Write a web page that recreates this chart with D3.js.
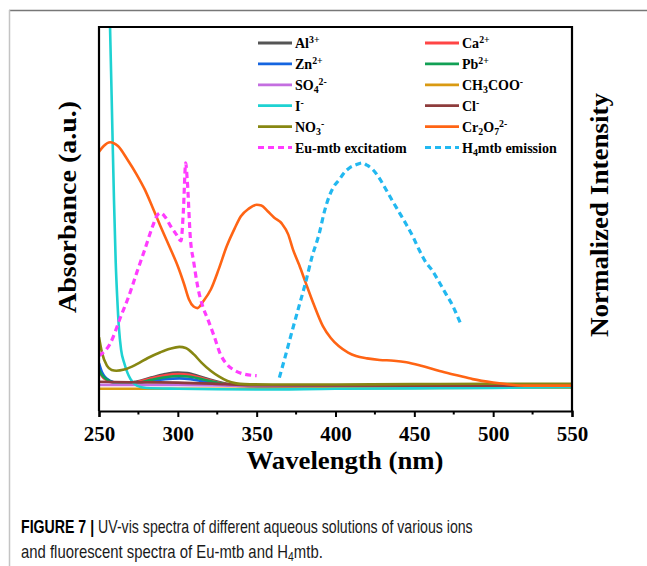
<!DOCTYPE html>
<html>
<head>
<meta charset="utf-8">
<script src="https://cdn.jsdelivr.net/npm/d3@7"></script>
<style>
  body { margin:0; background:#fff; }
  svg { display:block; }
</style>
</head>
<body>
<div class="canvas"></div>
<script>
// ---- data (wavelength nm, absorbance / normalized intensity) ----
const xTicks = [250, 300, 350, 400, 450, 500, 550]
const xMinorTicks = [275, 325, 375, 425, 475, 525]

const seriesNames = ["Al^{3+}", "Ca^{2+}", "Zn^{2+}", "Pb^{2+}", "SO_4^{2-}", "CH_3COO^-",
                     "I^-", "Cl^-", "NO_3^-", "Cr_2O_7^{2-}", "Eu-mtb excitatiom", "H_4mtb emission"]

const al3 = [[250,0.112],[252,0.095],[255,0.082],[260,0.074],[266,0.072],[274,0.077],[283,0.087],[292,0.096],[300,0.100],[306,0.099],[314,0.090],[322,0.080],[332,0.070],[342,0.066],[380,0.064],[450,0.064],[550,0.065]]
const ca2 = [[250,0.105],[252,0.090],[255,0.080],[260,0.073],[266,0.071],[274,0.075],[283,0.085],[292,0.093],[301,0.096],[307,0.094],[314,0.087],[322,0.078],[332,0.069],[342,0.066],[380,0.064],[450,0.064],[550,0.065]]
const zn2 = [[250,0.125],[252,0.100],[255,0.084],[260,0.074],[266,0.070],[274,0.072],[283,0.078],[292,0.083],[301,0.085],[308,0.083],[316,0.077],[326,0.070],[340,0.065],[380,0.063],[450,0.063],[550,0.064]]
const pb2 = [[250,0.108],[252,0.093],[255,0.082],[260,0.073],[266,0.070],[274,0.073],[283,0.081],[292,0.088],[301,0.091],[308,0.089],[316,0.082],[326,0.073],[338,0.067],[380,0.065],[450,0.066],[550,0.068]]
const so4 = [[250,0.068],[300,0.068],[350,0.065],[450,0.064],[550,0.065]]
const ch3coo = [[250,0.058],[300,0.058],[350,0.058],[450,0.060],[550,0.061]]
const iodide = [[255,1.25],[257,1.0],[258.5,0.73],[259.5,0.55],[260.6,0.387],[261.5,0.30],[262.7,0.213],[264,0.160],[266,0.125],[268,0.100],[270,0.083],[274,0.066],[280,0.060],[300,0.058],[350,0.056],[400,0.058],[450,0.059],[500,0.060],[550,0.062]]
const chloride = [[250,0.076],[270,0.075],[300,0.074],[330,0.070],[350,0.067],[450,0.066],[550,0.066]]
const no3 = [[250,0.192],[252,0.150],[255,0.118],[258,0.107],[261,0.105],[266,0.108],[274,0.122],[281,0.138],[289,0.153],[295,0.162],[301,0.167],[305,0.164],[310,0.148],[315,0.126],[321,0.104],[326,0.090],[331.5,0.078],[337,0.072],[342,0.070],[360,0.069],[400,0.069],[450,0.070],[500,0.071],[550,0.071]]
const cr2o7 = [[250,0.675],[253,0.690],[257,0.700],[262,0.690],[268,0.655],[274,0.615],[279,0.577],[284,0.530],[289,0.481],[295,0.425],[300,0.377],[304,0.330],[307,0.291],[310,0.272],[312.5,0.268],[316,0.285],[321,0.317],[326,0.370],[331,0.429],[336,0.475],[340,0.507],[345,0.527],[350,0.537],[353,0.535],[357,0.520],[361,0.504],[366,0.488],[370,0.460],[373,0.421],[377,0.380],[381,0.335],[386,0.280],[392,0.221],[397,0.190],[402,0.169],[408,0.152],[413,0.143],[420,0.137],[428,0.133],[437,0.131],[445,0.127],[455,0.117],[466,0.104],[477,0.093],[487,0.083],[500,0.074],[510,0.069],[520,0.066],[535,0.066],[550,0.066]]
const euExc = [[250,0.144],[257,0.175],[264,0.248],[269,0.300],[274,0.361],[279,0.420],[284,0.481],[287,0.510],[289,0.516],[292,0.505],[295.5,0.481],[299,0.460],[302,0.443],[303.5,0.520],[305,0.646],[306,0.600],[308,0.447],[310,0.390],[312.5,0.326],[316,0.270],[319,0.239],[323,0.195],[327,0.148],[331,0.122],[336,0.106],[342,0.096],[350,0.092]]
const h4Em = [[364.4,0.087],[368,0.140],[372.8,0.213],[377,0.275],[381,0.334],[385,0.400],[389.8,0.464],[393,0.520],[396,0.559],[399,0.585],[402.5,0.603],[405,0.618],[408.8,0.633],[413,0.641],[417,0.646],[420,0.640],[423.6,0.629],[428,0.605],[432,0.577],[436,0.548],[440.6,0.516],[445,0.485],[449,0.455],[453,0.420],[457.5,0.386],[461,0.368],[466,0.334],[470,0.305],[474.5,0.273],[477,0.250],[480,0.222]]

const seriesData = [al3, ca2, zn2, pb2, so4, ch3coo, iodide, chloride, no3, cr2o7, euExc, h4Em]

// ---- styles ----
const colors = ["#555555", "#ff4545", "#1565e0", "#12a055", "#c46ee0", "#d99a12",
                "#1ed2d2", "#8e3c3c", "#878712", "#ff6414", "#ff3cff", "#22b8f0"]
const dashed = [false, false, false, false, false, false, false, false, false, false, true, true]

const W = 647, H = 566
const plot = { left: 99, right: 572, top: 27, bottom: 411 }

const svg = d3.select(".canvas").append("svg").attr("width", W).attr("height", H)

// page frame
svg.append("line").attr("x1", 9).attr("x2", W).attr("y1", 10.5).attr("y2", 10.5)
   .attr("stroke", "#777").attr("stroke-width", 1.5)
svg.append("line").attr("x1", 9.5).attr("x2", 9.5).attr("y1", 10).attr("y2", H)
   .attr("stroke", "#c4c4c4").attr("stroke-width", 1.5)

const x = d3.scaleLinear().domain([250, 550]).range([plot.left, plot.right])
const y = d3.scaleLinear().domain([0, 1]).range([plot.bottom, plot.top])

svg.append("clipPath").attr("id", "clip")
   .append("rect").attr("x", plot.left).attr("y", plot.top)
   .attr("width", plot.right - plot.left).attr("height", plot.bottom - plot.top)

const line = d3.line().x(d => x(d[0])).y(d => y(d[1])).curve(d3.curveMonotoneX)

svg.append("g").attr("clip-path", "url(#clip)")
   .selectAll("path").data(seriesData).enter().append("path")
   .attr("d", line)
   .attr("fill", "none")
   .attr("stroke", (d, i) => colors[i])
   .attr("stroke-width", (d, i) => dashed[i] ? 3.2 : 2.6)
   .attr("stroke-dasharray", (d, i) => dashed[i] ? "6,4" : null)
   .attr("stroke-linejoin", "round")

// frame + axes
const frame = svg.append("g").attr("fill", "none").attr("stroke", "#000").attr("stroke-width", 2.2)
frame.append("line").attr("x1", plot.left).attr("x2", plot.left).attr("y1", plot.top - 1).attr("y2", plot.bottom)
frame.append("line").attr("x1", plot.right).attr("x2", plot.right).attr("y1", plot.top - 1).attr("y2", plot.bottom)
frame.append("line").attr("x1", plot.left - 1).attr("x2", plot.right + 1).attr("y1", plot.top).attr("y2", plot.top)

const serif = "'Liberation Serif', 'Times New Roman', serif"

const xAxis = svg.append("g").attr("transform", `translate(0,${plot.bottom})`)
  .call(d3.axisBottom(x).tickValues(xTicks).tickSize(6).tickPadding(9).tickFormat(d3.format("d")))
xAxis.select(".domain").attr("stroke-width", 2.2)
xAxis.selectAll(".tick line").attr("stroke-width", 2)
xAxis.selectAll("text")
  .attr("font-family", serif)
  .attr("font-weight", "bold").attr("font-size", 21).attr("fill", "#000")
svg.append("g").selectAll("line").data(xMinorTicks).enter().append("line")
  .attr("x1", d => x(d)).attr("x2", d => x(d))
  .attr("y1", plot.bottom).attr("y2", plot.bottom + 3.5)
  .attr("stroke", "#000").attr("stroke-width", 2)

svg.append("text").attr("x", 345).attr("y", 469).attr("text-anchor", "middle")
  .attr("font-family", serif).attr("font-weight", "bold").attr("font-size", 25)
  .attr("textLength", 197).attr("lengthAdjust", "spacingAndGlyphs")
  .text("Wavelength (nm)")

svg.append("text").attr("transform", "translate(76,207) rotate(-90)").attr("text-anchor", "middle")
  .attr("font-family", serif).attr("font-weight", "bold").attr("font-size", 25)
  .attr("textLength", 212).attr("lengthAdjust", "spacingAndGlyphs")
  .text("Absorbance (a.u.)")

svg.append("text").attr("transform", "translate(608,215) rotate(-90)").attr("text-anchor", "middle")
  .attr("font-family", serif).attr("font-weight", "bold").attr("font-size", 25)
  .attr("textLength", 244).attr("lengthAdjust", "spacingAndGlyphs")
  .text("Normalized Intensity")

// label with _sub and ^sup markup -> tspans
const parseLabel = (s) => {
  const parts = []
  let i = 0, buf = ""
  while (i < s.length) {
    const c = s[i]
    if (c === "_" || c === "^") {
      if (buf) { parts.push({ t: buf, m: null }); buf = "" }
      let t
      if (s[i + 1] === "{") {
        const end = s.indexOf("}", i)
        t = s.slice(i + 2, end); i = end + 1
      } else { t = s[i + 1]; i += 2 }
      parts.push({ t, m: c === "_" ? "sub" : "sup" })
    } else { buf += c; i++ }
  }
  if (buf) parts.push({ t: buf, m: null })
  return parts
}

const addRich = (sel, s, fs) => {
  parseLabel(s).forEach(p => {
    const ts = sel.append("tspan").text(p.t)
    if (p.m === "sub") ts.attr("font-size", fs * 0.7).attr("baseline-shift", "-25%")
    if (p.m === "sup") ts.attr("font-size", fs * 0.7).attr("baseline-shift", "55%")
  })
}

// legend: two columns, six rows
const legend = svg.append("g")
seriesNames.forEach((name, i) => {
  const col = i % 2, row = Math.floor(i / 2)
  const lx = col === 0 ? 258 : 425
  const ly = 43 + row * 20.9
  legend.append("line").attr("x1", lx).attr("x2", lx + 34).attr("y1", ly).attr("y2", ly)
    .attr("stroke", colors[i]).attr("stroke-width", dashed[i] ? 3.2 : 2.8)
    .attr("stroke-dasharray", dashed[i] ? "6,4" : null)
  const t = legend.append("text").attr("x", lx + 37).attr("y", ly + 5)
    .attr("font-family", serif).attr("font-weight", "bold").attr("font-size", 14)
  addRich(t, name, 14)
})

// caption: sans text squeezed horizontally to the narrow width of the original
const sans = "'Liberation Sans', Arial, sans-serif"
const fitCaption = (g, width) => {
  const w = g.node().getBBox().width
  g.attr("transform", g.attr("transform") + ` scale(${width / w},1)`)
}
const cap1g = svg.append("g").attr("transform", "translate(21,533)")
const cap1 = cap1g.append("text").attr("font-family", sans).attr("font-size", 17.5).attr("fill", "#1a1a1a")
cap1.append("tspan").attr("font-weight", "bold").attr("fill", "#000").text("FIGURE 7 | ")
cap1.append("tspan").text("UV-vis spectra of different aqueous solutions of various ions")
fitCaption(cap1g, 452)

const cap2g = svg.append("g").attr("transform", "translate(21,558)")
const cap2 = cap2g.append("text").attr("font-family", sans).attr("font-size", 17.5).attr("fill", "#1a1a1a")
addRich(cap2, "and fluorescent spectra of Eu-mtb and H_4mtb.", 17.5)
fitCaption(cap2g, 302)
</script>
</body>
</html>
